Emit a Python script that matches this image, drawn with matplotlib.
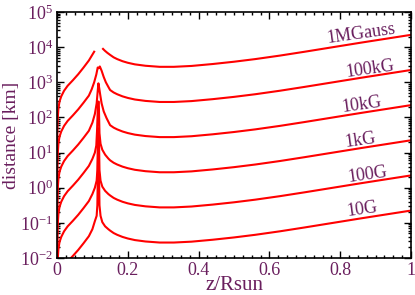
import numpy as np
import matplotlib
matplotlib.use("Agg")
import matplotlib.pyplot as plt

# ---- data (log10 of distance in km) ----
# base shape = 1 MGauss curve; other curves are one decade lower each
base_left_z = [0.0002, 0.0005, 0.001, 0.002, 0.004, 0.007, 0.012, 0.02, 0.03, 0.045,
               0.06, 0.075, 0.09, 0.105]
base_left_log = [-1.0, 0.9, 1.5, 1.95, 2.25, 2.45, 2.6, 2.76, 2.9, 3.06,
                 3.23, 3.42, 3.62, 3.87]
base_right_z = [0.13, 0.135, 0.142, 0.15, 0.16, 0.17, 0.185, 0.2, 0.22, 0.25, 0.29, 0.33,
                0.38, 0.44, 0.5, 0.56, 0.63, 0.7, 0.78, 0.86, 0.93, 1.0]
base_right_log = [3.95, 3.9, 3.84, 3.78, 3.71, 3.66, 3.6, 3.555, 3.51, 3.47, 3.44, 3.44,
                  3.465, 3.52, 3.585, 3.66, 3.76, 3.87, 4.0, 4.13, 4.24, 4.35]

field_labels = ["1MGauss", "100kG", "10kG", "1kG", "100G", "10G"]
decade_offsets = [0, 1, 2, 3, 4, 5]

# spike region values (z, log10 d) for the lower curves
spike_z = {
    "100kG": [0.098, 0.105, 0.111, 0.115, 0.118, 0.121, 0.126, 0.132, 0.138, 0.145],
    "10kG": [0.1, 0.107, 0.112, 0.115, 0.117, 0.119, 0.122, 0.126, 0.132, 0.14],
    "1kG": [0.1, 0.107, 0.111, 0.113, 0.116, 0.118, 0.12, 0.123, 0.128, 0.136, 0.145],
    "100G": [0.1, 0.107, 0.112, 0.114, 0.116, 0.118, 0.12, 0.123, 0.128, 0.136, 0.145],
    "10G": [0.1, 0.107, 0.112, 0.114, 0.116, 0.118, 0.12, 0.123, 0.128, 0.136, 0.145],
}
spike_log = {
    "100kG": [2.8, 3.0, 3.22, 3.42, 3.40, 3.45, 3.33, 3.15, 3.0, 2.87],
    "10kG": [1.85, 2.1, 2.4, 2.75, 2.97, 2.85, 2.65, 2.4, 2.17, 1.98],
    "1kG": [0.82, 1.0, 1.2, 1.6, 2.45, 2.45, 1.55, 1.25, 1.08, 0.94, 0.83],
    "100G": [-0.18, 0.0, 0.2, 0.5, 1.69, 1.69, 0.5, 0.2, 0.03, -0.09, -0.18],
    "10G": [-1.18, -0.95, -0.8, -0.5, 0.84, 0.84, -0.5, -0.8, -0.98, -1.1, -1.18],
}

x_ticks = [0, 0.2, 0.4, 0.6, 0.8, 1.0]
x_ticklabels = ["0", "0.2", "0.4", "0.6", "0.8", "1"]
y_tick_exponents = [-2, -1, 0, 1, 2, 3, 4, 5]

# ---- style ----
plt.rcParams['font.family'] = ['Liberation Serif', 'DejaVu Serif']
plt.rcParams['mathtext.fontset'] = 'custom'
plt.rcParams['mathtext.rm'] = 'Liberation Serif'
plt.rcParams['mathtext.it'] = 'Liberation Serif:italic'
text_color = '#6a1f5e'
red = '#ff0000'

fig = plt.figure(figsize=(4.15, 2.95), dpi=100)
ax = fig.add_axes([57/415, 37/295, 354/415, 246/295])

bl_z = np.array(base_left_z)
bl = np.array(base_left_log)
br_z = np.array(base_right_z)
br = np.array(base_right_log)

for lab, off in zip(field_labels, decade_offsets):
    if lab in spike_z:
        sz = np.array(spike_z[lab])
        sl = np.array(spike_log[lab])
        mL = bl_z < sz[0] - 0.005
        mR = br_z > sz[-1] + 0.003
        z = np.concatenate([bl_z[mL], sz, br_z[mR]])
        lg = np.concatenate([bl[mL] - off, sl, br[mR] - off])
        ax.plot(z, 10.0 ** lg, color=red, lw=1.5)
    else:
        ax.plot(bl_z, 10.0 ** (bl - off), color=red, lw=1.5)
        ax.plot(br_z, 10.0 ** (br - off), color=red, lw=1.5)

ax.set_yscale('log')
ax.set_xlim(0, 1)
ax.set_ylim(1e-2, 1e5)
ax.set_xticks(x_ticks)
ax.set_xticklabels(x_ticklabels)
ax.xaxis.set_minor_locator(matplotlib.ticker.MultipleLocator(0.025))
ax.set_yticks([10.0 ** e for e in y_tick_exponents])
ax.set_yticklabels([r"$\mathdefault{10^{%d}}$" % e for e in y_tick_exponents])
minor_y = [m * 10.0 ** e for e in y_tick_exponents[:-1] for m in range(2, 10)]
ax.set_yticks(minor_y, minor=True)
ax.yaxis.set_minor_formatter(matplotlib.ticker.NullFormatter())

ax.tick_params(which='both', direction='in', top=True, right=True, colors='black',
               labelcolor=text_color, labelsize=13, width=1)
ax.tick_params(which='major', length=5)
ax.tick_params(which='minor', length=2.5)
ax.tick_params(axis='x', pad=3)
ax.tick_params(axis='y', pad=3)
for s in ax.spines.values():
    s.set_linewidth(1.2)

ax.set_xlabel("z/Rsun", color=text_color, fontsize=15, labelpad=-2)
ax.set_ylabel("distance [km]", color=text_color, fontsize=14, labelpad=0)

# curve labels
label_pos = {"1MGauss": (0.86, 10**4.37), "100kG": (0.884, 10**3.38), "10kG": (0.86, 10**2.36),
             "1kG": (0.856, 10**1.36), "100G": (0.876, 10**0.36), "10G": (0.862, 10**-0.63)}
for lab in field_labels:
    x, y = label_pos[lab]
    ax.text(x, y, lab, color=text_color, fontsize=13, rotation=8,
            ha='center', va='center', rotation_mode='anchor')

fig.savefig("out.png", dpi=100)
